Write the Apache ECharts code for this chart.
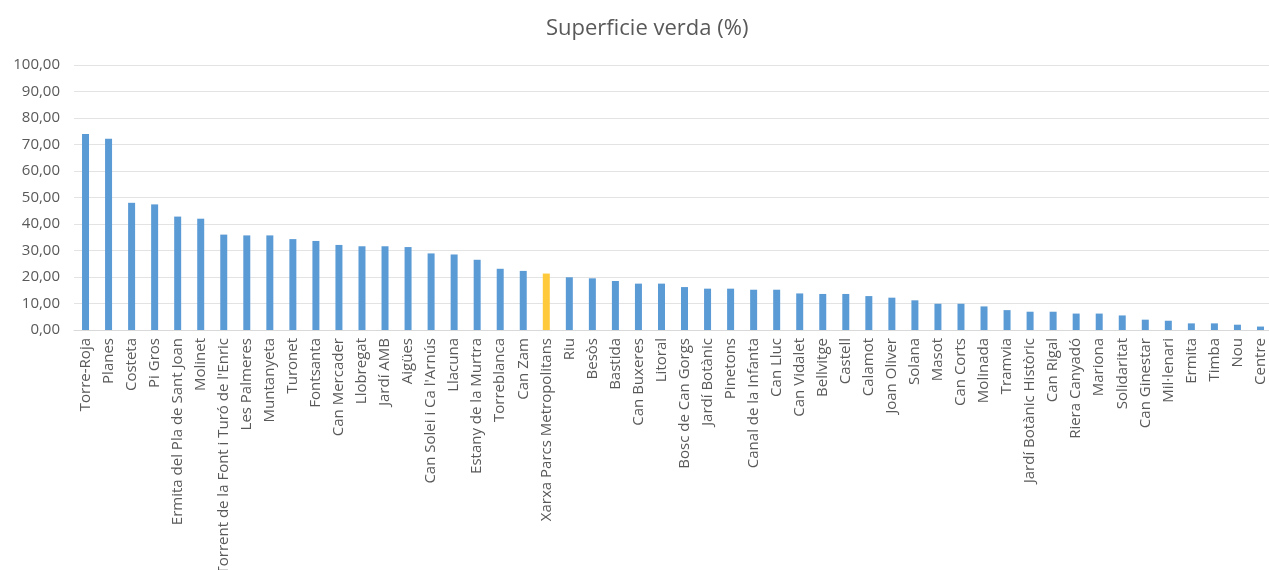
<!DOCTYPE html>
<html>
<head>
<meta charset="utf-8">
<script src="https://cdn.jsdelivr.net/npm/echarts@6/dist/echarts.min.js"></script>
<style>
html,body{margin:0;padding:0;background:#fff;}
#chart{width:1269px;height:570px;}
</style>
</head>
<body>
<div id="chart"></div>
<script>
const categories = [
  "Torre-Roja","Planes","Costeta","Pi Gros","Ermita del Pla de Sant Joan","Molinet",
  "Torrent de la Font i Turó de l'Enric","Les Palmeres","Muntanyeta","Turonet","Fontsanta",
  "Can Mercader","Llobregat","Jardí AMB","Aigües","Can Solei i Ca l'Arnús","Llacuna",
  "Estany de la Murtra","Torreblanca","Can Zam","Xarxa Parcs Metropolitans","Riu","Besòs",
  "Bastida","Can Buxeres","Litoral","Bosc de Can Gorgs","Jardí Botànic","Pinetons",
  "Canal de la Infanta","Can Lluc","Can Vidalet","Bellvitge","Castell","Calamot",
  "Joan Oliver","Solana","Masot","Can Corts","Molinada","Tramvia","Jardí Botànic Històric",
  "Can Rigal","Riera Canyadó","Mariona","Solidaritat","Can Ginestar","Mil·lenari",
  "Ermita","Timba","Nou","Centre"
];
const values = [
  74.0,72.2,48.0,47.4,42.8,42.0,
  36.0,35.7,35.7,34.3,33.6,
  32.1,31.6,31.6,31.3,28.9,28.5,
  26.5,23.1,22.3,21.3,19.9,19.5,
  18.5,17.5,17.5,16.2,15.6,15.6,
  15.2,15.2,13.8,13.6,13.6,12.8,
  12.2,11.2,9.9,9.9,8.9,7.5,6.9,
  6.9,6.2,6.2,5.5,3.9,3.5,
  2.5,2.5,2.0,1.3
];
const highlighted = ["Xarxa Parcs Metropolitans"];
const yTicks = [0,10,20,30,40,50,60,70,80,90,100];
const titleText = "Superficie verda (%)";

const BLUE = "#5B9BD5", GOLD = "#FFC93C", TEXT = "#595959";
const seriesData = values.map((v, i) => ({
  value: v,
  itemStyle: { color: highlighted.includes(categories[i]) ? GOLD : BLUE }
}));

const chart = echarts.init(document.getElementById('chart'), null, {renderer:'canvas'});
chart.setOption({
  animation: false,
  backgroundColor: '#fff',
  title: {
    text: titleText, left: 541, top: 13,
    textStyle: { color: TEXT, fontSize: 22, fontWeight: 'normal', fontFamily: 'Open Sans' }
  },
  grid: { left: 74, top: 65, width: 1198, height: 265, containLabel: false, outerBoundsMode: 'none' },
  xAxis: {
    type: 'category', data: categories,
    axisLine: { lineStyle: { color: '#d9d9d9' } },
    axisTick: { show: false },
    axisLabel: { rotate: 90, interval: 0, color: TEXT, fontSize: 15, fontFamily: 'Open Sans', margin: 8 }
  },
  yAxis: {
    type: 'value', min: yTicks[0], max: yTicks[yTicks.length-1], interval: 10,
    axisLine: { show: false }, axisTick: { show: false },
    splitLine: { lineStyle: { color: '#e3e3e3', width: 1 } },
    axisLabel: { color: TEXT, fontSize: 15, fontFamily: 'Open Sans', margin: 14,
      formatter: v => v.toFixed(2).replace('.', ',') }
  },
  series: [{ type: 'bar', data: seriesData, barWidth: 7 }]
});
</script>
</body>
</html>
